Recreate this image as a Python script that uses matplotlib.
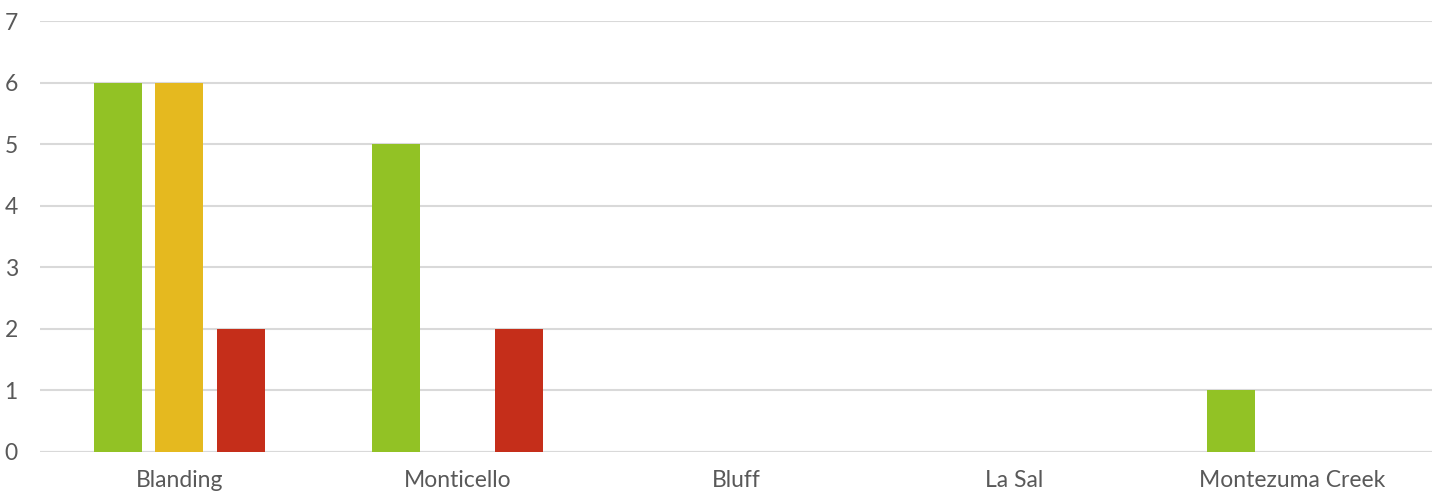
import numpy as np
import matplotlib.pyplot as plt

categories = ['Blanding', 'Monticello', 'Bluff', 'La Sal', 'Montezuma Creek']
series_green = [6, 5, 0, 0, 1]
series_yellow = [6, 0, 0, 0, 0]
series_red = [2, 2, 0, 0, 0]
colors = ['#92C225', '#E5B91F', '#C52E1A']

plt.rcParams['font.family'] = ['Lato', 'DejaVu Sans']

fig = plt.figure(figsize=(14.39, 4.93), dpi=100)
ax = fig.add_axes([0.0278, 0.0832, 0.9672, 0.8742])

x = np.arange(len(categories))
width = 0.173
step = 0.221
for i, (vals, c) in enumerate(zip([series_green, series_yellow, series_red], colors)):
    ax.bar(x + (i - 1) * step, vals, width, color=c, zorder=3)

ax.set_xlim(-0.5, len(categories) - 0.5)
ax.set_ylim(0, 7)
ax.set_yticks(range(8))
ax.set_xticks(x)
ax.set_xticklabels(categories)
ax.grid(axis='y', color='#D9D9D9', linewidth=1.5, zorder=0)
ax.tick_params(length=0, labelsize=16.5, colors='#595959')
ax.tick_params(axis='x', pad=13)
ax.tick_params(axis='y', pad=16)
for s in ax.spines.values():
    s.set_visible(False)
ax.axhline(0, color='#D9D9D9', linewidth=1.5, zorder=1)

fig.savefig('out.png', dpi=100)
